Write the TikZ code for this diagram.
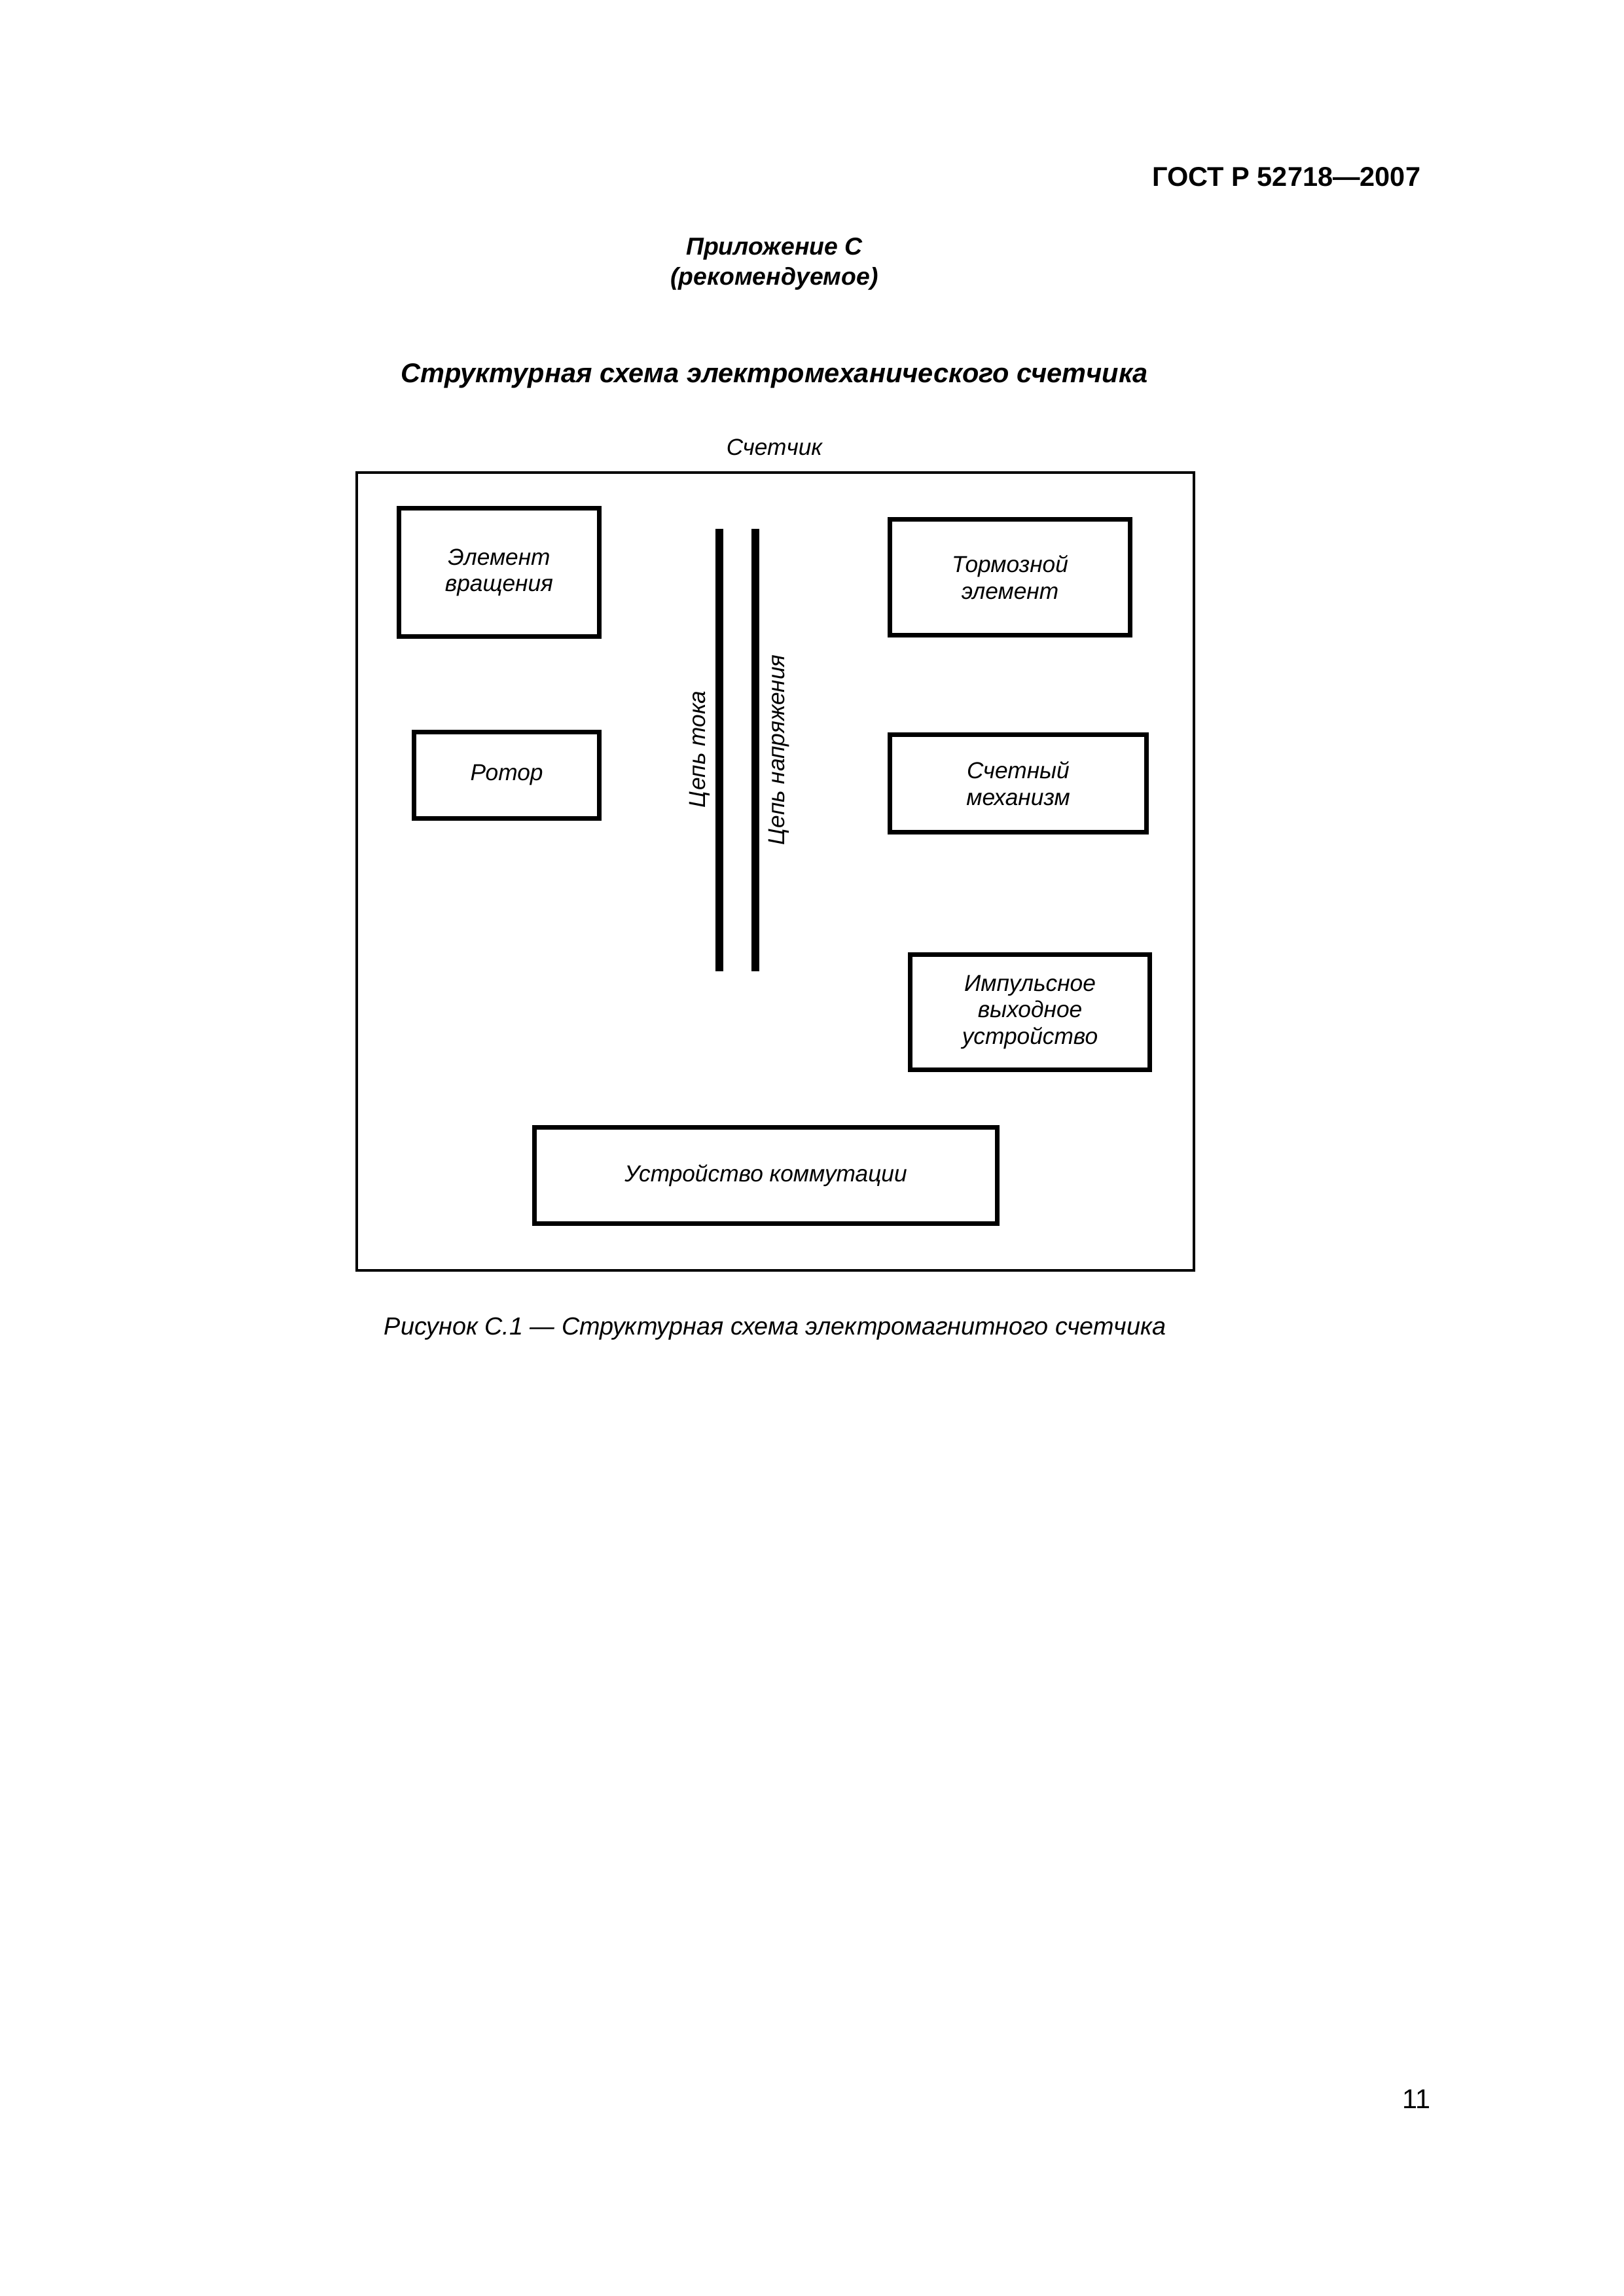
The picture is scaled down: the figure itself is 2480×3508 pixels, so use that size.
\documentclass[tikz,border=0pt]{standalone}
\usepackage{fontspec}
\setmainfont{Liberation Sans}
\usetikzlibrary{positioning}
\def\pu{0.24087pt}
\tikzset{block/.style={draw,line width=1.8pt,align=center,inner sep=0pt,font=\fontsize{8.5}{9.7}\selectfont\itshape}, frame/.style={draw,line width=1pt,inner sep=0pt}, bar/.style={line width=2.9pt}, lbl/.style={inner sep=0pt,align=center}, vlbl/.style={lbl,rotate=90,font=\fontsize{8.5}{10}\selectfont\itshape}}

\begin{document}
\begin{tikzpicture}[x=0.24087pt,y=-0.24087pt]
\useasboundingbox (0,0) rectangle (2480,3508);
\node[lbl,anchor=base east,font=\fontsize{10}{12}\selectfont\bfseries] (gost) at (2171,285) {ГОСТ Р 52718—2007};
\node[lbl,anchor=base,font=\fontsize{9}{11}\selectfont\bfseries\itshape] (app) at (1183,390) {Приложение С};
\node[lbl,anchor=base,font=\fontsize{9}{11}\selectfont\bfseries\itshape] (rec) at (1183,436) {(рекомендуемое)};
\node[lbl,anchor=base,font=\fontsize{10}{12}\selectfont\bfseries\itshape] (title) at (1183,585) {Структурная схема электромеханического счетчика};
\node[lbl,anchor=base,font=\fontsize{8.5}{10}\selectfont\itshape] (meterlbl) at (1183,696) {Счетчик};
\node[frame,minimum width=1279*\pu,minimum height=1219*\pu] (meter) at (1184.5,1331.5) {};
\node[block,minimum width=306*\pu,minimum height=196*\pu] (rot) at (762.5,874.5) {Элемент\\вращения};
\node[block,minimum width=367*\pu,minimum height=177*\pu] (brake) at (1543,882) {Тормозной\\элемент};
\node[block,minimum width=283*\pu,minimum height=132*\pu] (rotor) at (774,1184.5) {Ротор};
\node[block,minimum width=392*\pu,minimum height=149*\pu] (count) at (1555.5,1197) {Счетный\\механизм};
\node[block,minimum width=366*\pu,minimum height=176*\pu] (pulse) at (1573.5,1546.5) {Импульсное\\выходное\\устройство};
\node[block,minimum width=707*\pu,minimum height=147*\pu] (switch) at (1170,1796) {Устройство коммутации};
% current and voltage circuits
\coordinate (cur1) at (1099,808);
\coordinate (cur2) at (1099,1484);
\coordinate (volt1) at (1154,808);
\coordinate (volt2) at (1154,1484);
\draw[bar] (cur1) -- (cur2);
\draw[bar] (volt1) -- (volt2);
\node[vlbl] (curlbl) at (1069,1145) {Цепь тока};
\node[vlbl] (voltlbl) at (1190,1146) {Цепь напряжения};
\node[lbl,anchor=base,font=\fontsize{9.1}{11}\selectfont\itshape] (caption) at (1184,2039) {Рисунок С.1 — Структурная схема электромагнитного счетчика};
\node[lbl,anchor=base east,font=\fontsize{10}{12}\selectfont] (page) at (2186,3221) {11};
\end{tikzpicture}
\end{document}
